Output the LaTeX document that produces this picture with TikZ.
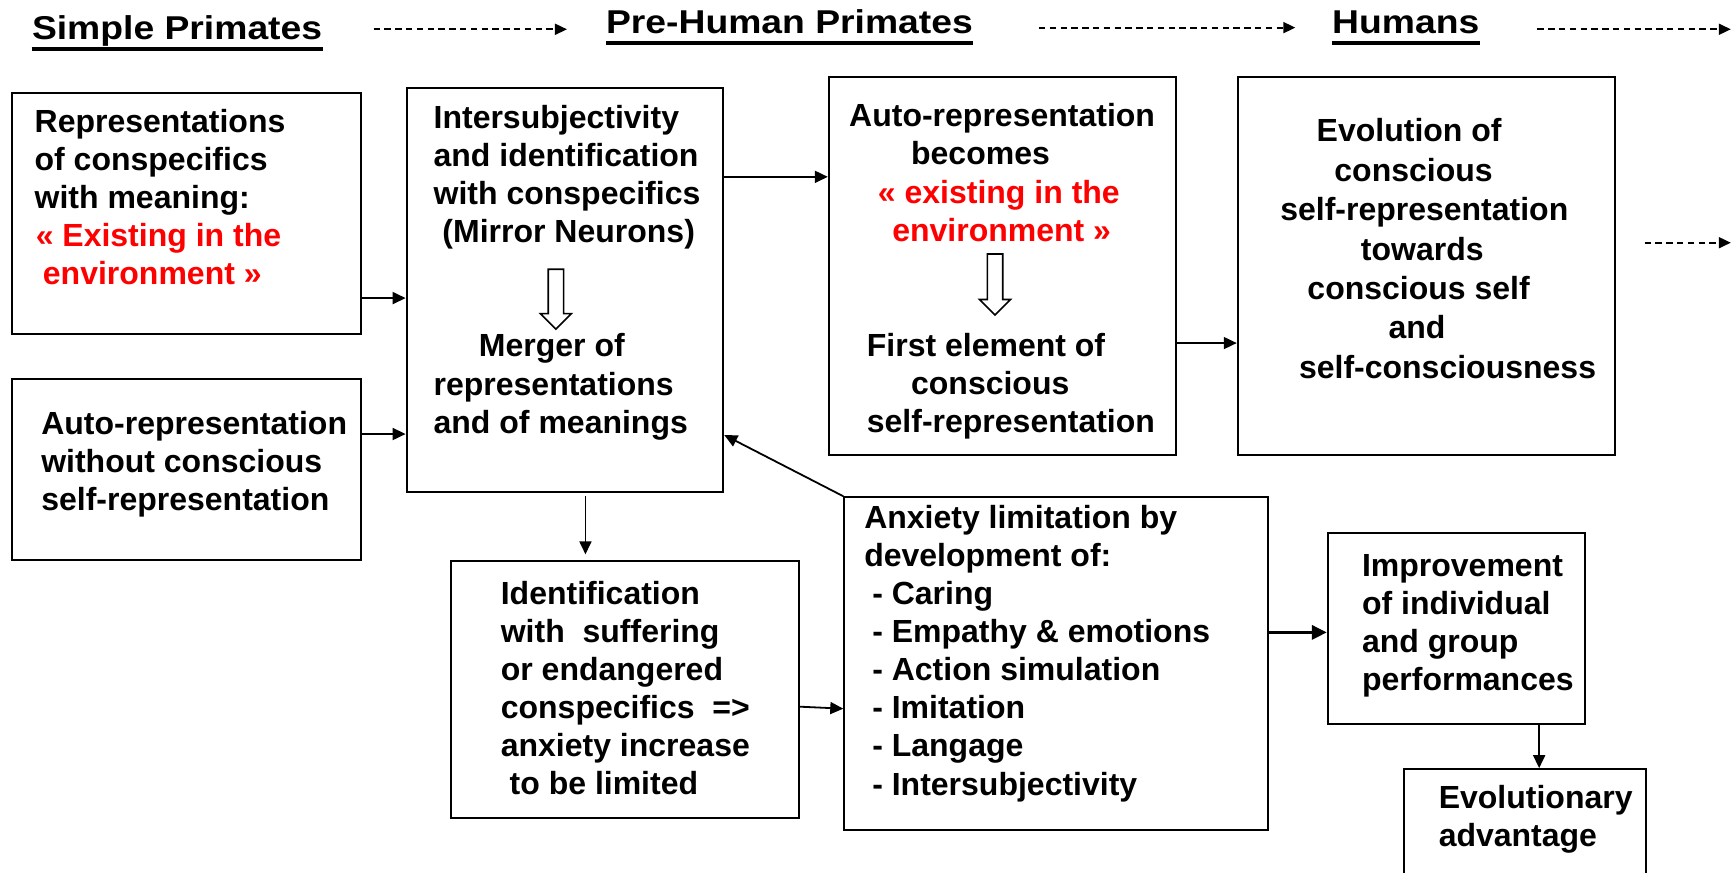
\documentclass[tikz,border=0pt]{standalone}
\usepackage{fontspec}
\setmainfont{Liberation Sans}
\newfontfamily\hdrfont[FakeStretch=1.13]{Liberation Sans}
\usetikzlibrary{arrows.meta}
\newcommand\mkbox[5]{\node[box, minimum width={(#4-#2)*0.55261pt}, minimum height={(#5-#3)*0.55261pt}] (#1) at (#2,#3) {};}
\newcommand\mklines[5]{\foreach \dx/\t [count=\i from 0] in {#5} {\node[txt] (#1-\i) at (#2+\dx, #3+\i*#4) {\t};}}
\newcommand\hollowarrow[3]{\draw[hollow] (#1-7,#2) -- (#1+7,#2) -- (#1+7,#3-14) -- (#1+14,#3-14) -- (#1,#3) -- (#1-14,#3-14) -- (#1-7,#3-14) -- cycle;}
\begin{document}
\begin{tikzpicture}[x=0.55261pt, y=-0.55261pt,
 box/.style={draw, line width=1pt, inner sep=0pt, anchor=north west},
 txt/.style={anchor=base west, inner sep=0pt, font=\bfseries\fontsize{16}{19}\selectfont},
 hdr/.style={anchor=base west, inner sep=0pt, font=\hdrfont\bfseries\fontsize{16.5}{19}\selectfont},
 arr/.style={line width=0.9pt, -{Triangle[length=6.5pt,width=6pt]}},
 thickarr/.style={line width=1.7pt, -{Triangle[length=7.5pt,width=7pt]}},
 dasharr/.style={line width=0.9pt, dash pattern=on 3.2pt off 2.2pt, -{Triangle[length=6pt,width=5.5pt]}},
 hollow/.style={line width=0.8pt, fill=white},
 uline/.style={line width=2pt}
]
\useasboundingbox (0,0) rectangle (1568,789);
\clip (0,0) rectangle (1568,789);

% headers
\node[hdr] (h1) at (28.6,35.6) {Simple Primates};
\node[hdr] (h2) at (548,30) {Pre-Human Primates};
\node[hdr] (h3) at (1205,30) {Humans};
\foreach \h in {h1,h2,h3} {
  \path (\h.base west) ++(0,8.8) coordinate (\h-ua);
  \path (\h.base east) ++(0,8.8) coordinate (\h-ub);
  \draw[uline] (\h-ua) -- (\h-ub);
}
\coordinate (d1s) at (338,26.5); \coordinate (d1e) at (513,26.5);
\coordinate (d2s) at (940,25); \coordinate (d2e) at (1172,25);
\coordinate (d3s) at (1391,26.5); \coordinate (d3e) at (1566,26.5);
\draw[dasharr] (d1s) -- (d1e);
\draw[dasharr] (d2s) -- (d2e);
\draw[dasharr] (d3s) -- (d3e);

% boxes
\mkbox{b1}{10}{83}{325.4}{301}
\mkbox{b2}{10}{342}{325.4}{506}
\mkbox{b3}{367}{79}{653.5}{444}
\mkbox{b4}{749}{69}{1063}{411}
\mkbox{b5}{1119}{69}{1460}{411}
\mkbox{b6}{407}{507}{722}{739}
\mkbox{b7}{763}{449}{1146}{750}
\mkbox{b8}{1200.5}{481.5}{1433.5}{654}
\mkbox{b9}{1269.5}{695}{1488.5}{820}

% texts
\mklines{t1}{31}{120}{34.3}{0/Representations,0/of conspecifics,0/with meaning:,1/{\textcolor{red}{« Existing in the}},7.5/{\textcolor{red}{environment »}}}
\mklines{t2}{37}{392.7}{34.6}{0/Auto-representation,0/without conscious,0/self-representation}
\mklines{t3a}{392}{116}{34.5}{0/Intersubjectivity,0/and identification,0/with conspecifics,8/{(Mirror Neurons)}}
\mklines{t3b}{392}{323}{34.5}{41/Merger of,0/representations,0/and of meanings}
\mklines{t4a}{768}{114.6}{34.6}{0/Auto-representation,56/becomes,26/{\textcolor{red}{« existing in the}},39/{\textcolor{red}{environment »}}}
\mklines{t4b}{768}{322.2}{34.6}{16/First element of,56/conscious,16/self-representation}
\mklines{t5}{1158}{128.2}{35.7}{33/Evolution of,49/conscious,0/self-representation,73/towards,24.6/conscious self,98/and,17/self-consciousness}
\mklines{t6}{452.8}{546.5}{34.4}{0/Identification,0/{with\ \ suffering},0/or endangered,0/{conspecifics\ \ =>},0/anxiety increase,8/to be limited}
\mklines{t7}{781.6}{477.9}{34.5}{0/Anxiety limitation by,0/development of:,7.3/- Caring,7.3/- Empathy \& emotions,7.3/- Action simulation,7.3/- Imitation,7.3/- Langage,7.3/- Intersubjectivity}
\mklines{t8}{1232}{521.2}{34.4}{0/Improvement,0/of individual,0/and group,0/performances}
\mklines{t9}{1301.4}{731.4}{34.6}{0/Evolutionary,0/advantage}

% hollow arrows
\hollowarrow{503}{243.6}{297.8}
\hollowarrow{900.3}{229.8}{285}

% connectors
\draw[arr] (b1.east |- 0,269.7) -- (b3.west |- 0,269.7);
\draw[arr] (b2.east |- 0,392.7) -- (b3.west |- 0,392.7);
\draw[arr] (b3.east |- 0,160) -- (b4.west |- 0,160);
\draw[arr] (b4.east |- 0,310.4) -- (b5.west |- 0,310.4);
\draw[arr, shorten <=1.7pt, shorten >=3pt] (529.7,0 |- b3.south) -- (529.7,0 |- b6.north);
\draw[arr] (b7.north west) -- (b3.east |- 0,393.6);
\draw[arr] (b6.east |- 0,639.4) -- (b7.west |- 0,641.2);
\draw[thickarr] (b7.east |- 0,572.2) -- (b8.west |- 0,572.2);
\draw[arr] (1392.6,0 |- b8.south) -- (1392.6,0 |- b9.north);
\coordinate (d4s) at (1488,219.6); \coordinate (d4e) at (1566,219.6);
\draw[dasharr] (d4s) -- (d4e);
\end{tikzpicture}
\end{document}
